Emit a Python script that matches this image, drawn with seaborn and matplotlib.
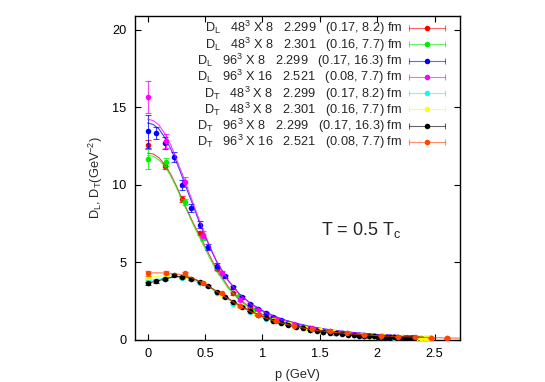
import matplotlib
matplotlib.use("Agg")
import matplotlib.pyplot as plt
import seaborn as sns
import numpy as np
from matplotlib.lines import Line2D
from matplotlib.legend_handler import HandlerBase

# ---------------- data ----------------
# momenta (GeV)
p_48_a = [0.0, 0.152, 0.303, 0.453, 0.601, 0.746, 0.888, 1.027, 1.161, 1.290, 1.413, 1.530,
          1.641, 1.745, 1.841, 1.930, 2.010, 2.082, 2.144, 2.198, 2.242, 2.276, 2.301, 2.316, 2.321]
p_48_b = [0.0, 0.161, 0.322, 0.481, 0.638, 0.793, 0.944, 1.091, 1.233, 1.370, 1.501, 1.626,
          1.744, 1.854, 1.956, 2.050, 2.136, 2.212, 2.279, 2.335, 2.382, 2.419, 2.445, 2.461, 2.466]
p_96 = [0.0, 0.076, 0.152, 0.228, 0.303, 0.378, 0.453, 0.527, 0.601, 0.674, 0.746, 0.818,
        0.888, 0.958, 1.027, 1.094, 1.161, 1.226, 1.290, 1.352, 1.413, 1.472, 1.530, 1.586,
        1.641, 1.693, 1.745, 1.794, 1.841, 1.887, 1.930, 1.971, 2.010, 2.047, 2.082, 2.114,
        2.144, 2.172, 2.198, 2.221, 2.242, 2.260, 2.276, 2.290, 2.301, 2.310, 2.316, 2.320, 2.321]
p_96x16 = [0.0, 0.161, 0.323, 0.483, 0.644, 0.803, 0.962, 1.120, 1.276, 1.432, 1.585, 1.737,
           1.887, 2.035, 2.181, 2.325, 2.466, 2.605]

# D_L values
dl_red = [12.6, 11.2, 9.1, 6.9, 4.6, 3.0, 2.1, 1.55, 1.15, 0.88, 0.68, 0.54, 0.44, 0.36, 0.30,
          0.26, 0.22, 0.19, 0.17, 0.16, 0.15, 0.14, 0.14, 0.13, 0.13]
dl_red_err = [0.3, 0.2, 0.2, 0.15, 0.1, 0.08, 0.06, 0.05, 0.04, 0.03, 0.03, 0.02, 0.02, 0.02, 0.02,
              0.01, 0.01, 0.01, 0.01, 0.01, 0.01, 0.01, 0.01, 0.01, 0.01]
dl_green = [11.65, 11.5, 8.9, 6.6, 4.35, 2.85, 2.0, 1.45, 1.05, 0.8, 0.62, 0.48, 0.39, 0.32, 0.27,
            0.23, 0.2, 0.18, 0.16, 0.15, 0.14, 0.13, 0.13, 0.12, 0.12]
dl_green_err = [0.65, 0.25, 0.2, 0.15, 0.1, 0.08, 0.06, 0.05, 0.04, 0.03, 0.03, 0.02, 0.02, 0.02,
                0.02, 0.01, 0.01, 0.01, 0.01, 0.01, 0.01, 0.01, 0.01, 0.01, 0.01]
dl_blue = [13.45, 13.35, 12.7, 11.8, 10.0, 8.5, 7.45, 6.0, 4.8, 4.1, 3.4, 2.75, 2.3, 2.0, 1.75,
           1.5, 1.3, 1.12, 0.98, 0.86, 0.76, 0.67, 0.6, 0.54, 0.48, 0.43, 0.39, 0.35, 0.32, 0.29,
           0.27, 0.25, 0.22, 0.21, 0.2, 0.19, 0.18, 0.17, 0.16, 0.16, 0.15, 0.15, 0.14, 0.14, 0.14,
           0.13, 0.13, 0.13, 0.13]
dl_blue_err = [1.05, 0.4, 0.4, 0.35, 0.3, 0.27, 0.25, 0.2, 0.15, 0.12, 0.1, 0.08, 0.07, 0.06, 0.05,
               0.05, 0.04, 0.04, 0.03, 0.03, 0.03, 0.02, 0.02, 0.02, 0.02, 0.02, 0.02, 0.02, 0.01,
               0.01, 0.01, 0.01, 0.01, 0.01, 0.01, 0.01, 0.01, 0.01, 0.01, 0.01, 0.01, 0.01, 0.01,
               0.01, 0.01, 0.01, 0.01, 0.01, 0.01]
dl_magenta = [15.65, 12.85, 10.2, 6.8, 4.35, 2.6, 1.95, 1.35, 1.0, 0.75, 0.57, 0.43, 0.33, 0.25,
              0.19, 0.15, 0.12, 0.1]
dl_magenta_err = [1.03, 0.45, 0.3, 0.2, 0.12, 0.08, 0.06, 0.05, 0.04, 0.03, 0.02, 0.02, 0.02, 0.01,
                  0.01, 0.01, 0.01, 0.01]

# D_T values
dt_cyan = [3.87, 3.95, 4.0, 3.7, 3.05, 2.35, 1.8, 1.38, 1.07, 0.84, 0.66, 0.53, 0.44, 0.36, 0.3,
           0.25, 0.21, 0.18, 0.16, 0.15, 0.14, 0.13, 0.13, 0.12, 0.12]
dt_cyan_err = [0.1, 0.08, 0.07, 0.06, 0.05, 0.04, 0.03, 0.03, 0.02, 0.02, 0.02, 0.01, 0.01, 0.01,
               0.01, 0.01, 0.01, 0.01, 0.01, 0.01, 0.01, 0.01, 0.01, 0.01, 0.01]
dt_yellow = [4.05, 4.2, 4.15, 3.65, 2.95, 2.25, 1.7, 1.3, 1.0, 0.78, 0.62, 0.5, 0.41, 0.34, 0.28,
             0.24, 0.2, 0.18, 0.16, 0.15, 0.14, 0.13, 0.13, 0.12, 0.12]
dt_yellow_err = [0.1, 0.08, 0.07, 0.06, 0.05, 0.04, 0.03, 0.03, 0.02, 0.02, 0.02, 0.01, 0.01, 0.01,
                 0.01, 0.01, 0.01, 0.01, 0.01, 0.01, 0.01, 0.01, 0.01, 0.01, 0.01]
dt_black = [3.66, 3.78, 3.95, 4.17, 4.08, 3.92, 3.75, 3.48, 3.12, 2.75, 2.45, 2.15, 1.88, 1.62,
            1.42, 1.25, 1.1, 0.97, 0.86, 0.76, 0.67, 0.6, 0.54, 0.48, 0.43, 0.39, 0.35, 0.32, 0.29,
            0.27, 0.25, 0.23, 0.21, 0.2, 0.19, 0.18, 0.17, 0.16, 0.15, 0.15, 0.14, 0.14, 0.13,
            0.13, 0.13, 0.13, 0.12, 0.12, 0.12]
dt_black_err = [0.1, 0.08, 0.07, 0.06, 0.05, 0.05, 0.04, 0.04, 0.03, 0.03, 0.03, 0.02, 0.02, 0.02,
                0.02, 0.02, 0.01, 0.01, 0.01, 0.01, 0.01, 0.01, 0.01, 0.01, 0.01, 0.01, 0.01, 0.01,
                0.01, 0.01, 0.01, 0.01, 0.01, 0.01, 0.01, 0.01, 0.01, 0.01, 0.01, 0.01, 0.01, 0.01,
                0.01, 0.01, 0.01, 0.01, 0.01, 0.01, 0.01]
dt_orange = [4.3, 4.35, 4.3, 3.68, 3.0, 2.2, 1.6, 1.2, 0.92, 0.7, 0.55, 0.43, 0.34, 0.27, 0.21,
             0.17, 0.13, 0.11]
dt_orange_err = [0.17, 0.12, 0.1, 0.07, 0.05, 0.04, 0.03, 0.02, 0.02, 0.02, 0.01, 0.01, 0.01, 0.01,
                 0.01, 0.01, 0.01, 0.01]

# fit curves
p_fit = [0.0, 0.05, 0.1, 0.15, 0.2, 0.25, 0.3, 0.35, 0.4, 0.45, 0.5, 0.55, 0.6, 0.7, 0.8, 0.9, 1.0,
         1.1, 1.2, 1.3, 1.4, 1.5, 1.6, 1.8, 2.0, 2.2, 2.4]
p_fit_long = [0.0, 0.05, 0.1, 0.15, 0.2, 0.25, 0.3, 0.35, 0.4, 0.45, 0.5, 0.55, 0.6, 0.7, 0.8, 0.9,
              1.0, 1.1, 1.2, 1.3, 1.4, 1.5, 1.6, 1.8, 2.0, 2.2, 2.4, 2.6, 2.72]
fit_red = [12.05, 12.0, 11.75, 11.3, 10.7, 9.95, 9.1, 8.3, 7.5, 6.8, 6.05, 5.3, 4.6, 3.45, 2.62,
           2.06, 1.66, 1.36, 1.12, 0.93, 0.78, 0.66, 0.56, 0.42, 0.32, 0.25, 0.2]
fit_green = [11.9, 11.85, 11.6, 11.2, 10.6, 9.85, 9.0, 8.2, 7.4, 6.65, 5.9, 5.15, 4.45, 3.35, 2.55,
             2.0, 1.6, 1.31, 1.08, 0.9, 0.76, 0.64, 0.55, 0.41, 0.31, 0.24, 0.19]
fit_blue = [14.0, 13.9, 13.6, 13.05, 12.35, 11.5, 10.55, 9.55, 8.6, 7.6, 6.7, 5.85, 5.05, 3.85, 2.95,
            2.35, 1.9, 1.55, 1.28, 1.07, 0.9, 0.76, 0.65, 0.48, 0.36, 0.28, 0.22]
fit_magenta = [14.25, 14.15, 13.85, 13.3, 12.6, 11.7, 10.75, 9.75, 8.75, 7.75, 6.8, 5.9, 5.1,
               3.85, 2.95, 2.3, 1.85, 1.5, 1.24, 1.03, 0.86, 0.73, 0.62, 0.46, 0.35, 0.27, 0.21]
fit_cyan = [3.85, 3.88, 3.93, 3.98, 4.02, 4.04, 4.02, 3.95, 3.83, 3.68, 3.5, 3.3, 3.08, 2.62, 2.2,
            1.82, 1.5, 1.24, 1.03, 0.86, 0.72, 0.61, 0.52, 0.39, 0.29, 0.23, 0.18]
fit_yellow = [4.05, 4.08, 4.12, 4.16, 4.18, 4.17, 4.12, 4.03, 3.9, 3.74, 3.55, 3.34, 3.1, 2.63,
              2.2, 1.82, 1.5, 1.24, 1.03, 0.86, 0.72, 0.61, 0.52, 0.39, 0.29, 0.23, 0.18]
fit_black = [3.7, 3.75, 3.84, 3.94, 4.03, 4.09, 4.1, 4.05, 3.94, 3.79, 3.6, 3.38, 3.15, 2.68, 2.24,
             1.85, 1.52, 1.25, 1.04, 0.87, 0.73, 0.62, 0.53, 0.4, 0.3, 0.23, 0.18]
fit_orange = [4.32, 4.33, 4.33, 4.32, 4.3, 4.26, 4.2, 4.1, 3.97, 3.8, 3.6, 3.38, 3.14, 2.66, 2.21,
              1.82, 1.49, 1.23, 1.02, 0.85, 0.71, 0.6, 0.51, 0.38, 0.28, 0.22, 0.17, 0.13, 0.12]

labels = [
    r"D$_\mathrm{L}$   48$^3$ X 8   2.299   (0.17, 8.2) fm",
    r"D$_\mathrm{L}$   48$^3$ X 8   2.301   (0.16, 7.7) fm",
    r"D$_\mathrm{L}$   96$^3$ X 8   2.299   (0.17, 16.3) fm",
    r"D$_\mathrm{L}$   96$^3$ X 16   2.521   (0.08, 7.7) fm",
    r"D$_\mathrm{T}$   48$^3$ X 8   2.299   (0.17, 8.2) fm",
    r"D$_\mathrm{T}$   48$^3$ X 8   2.301   (0.16, 7.7) fm",
    r"D$_\mathrm{T}$   96$^3$ X 8   2.299   (0.17, 16.3) fm",
    r"D$_\mathrm{T}$   96$^3$ X 16   2.521   (0.08, 7.7) fm",
]
colors = ["#ff0000", "#00ee00", "#0000ff", "#ff00ff", "#00ffff", "#ffff00", "#000000", "#ff4500"]

series = [
    (p_48_a, dl_red, dl_red_err, p_fit, fit_red),
    (p_48_b, dl_green, dl_green_err, p_fit, fit_green),
    (p_96, dl_blue, dl_blue_err, p_fit, fit_blue),
    (p_96x16, dl_magenta, dl_magenta_err, p_fit, fit_magenta),
    (p_48_a, dt_cyan, dt_cyan_err, p_fit, fit_cyan),
    (p_48_b, dt_yellow, dt_yellow_err, p_fit, fit_yellow),
    (p_96, dt_black, dt_black_err, p_fit, fit_black),
    (p_96x16, dt_orange, dt_orange_err, p_fit_long, fit_orange),
]

# ---------------- style ----------------
sns.set_theme(style="ticks")
plt.rcParams["font.family"] = ["Liberation Sans", "DejaVu Sans"]
plt.rcParams["mathtext.fontset"] = "custom"
plt.rcParams["mathtext.rm"] = "Liberation Sans"
plt.rcParams["mathtext.it"] = "Liberation Sans:italic"
plt.rcParams["mathtext.bf"] = "Liberation Sans:bold"

FS = 9.2

fig = plt.figure(figsize=(5.45, 3.82), dpi=100)
ax = fig.add_axes([135 / 545, 1 - 340 / 382, 325 / 545, 324 / 382])

for i, ((px, py, pe, fx, fy), c) in enumerate(zip(series, colors)):
    z = 2 + i
    ax.errorbar(px, py, yerr=pe, fmt="none", ecolor=c, elinewidth=0.8, capsize=2.2,
                capthick=0.8, zorder=z, alpha=0.75)
    sns.lineplot(x=fx, y=fy, ax=ax, color=c, lw=0.8, alpha=0.75, zorder=z, sort=False)
    sns.scatterplot(x=px, y=py, ax=ax, color=c, s=16, linewidth=0, zorder=z + 0.5)

ax.set_xlim(-0.11, 2.72)
ax.set_ylim(0, 20.9)
ax.set_xticks([0, 0.5, 1, 1.5, 2, 2.5])
ax.set_xticklabels(["0", "0.5", "1", "1.5", "2", "2.5"])
ax.set_yticks([0, 5, 10, 15, 20])
ax.tick_params(direction="in", length=4.5, width=0.8, top=True, right=True,
               labelsize=FS, pad=6, colors="black")
for s in ax.spines.values():
    s.set_linewidth(1.0)
    s.set_color("black")

ax.set_xlabel("p (GeV)", fontsize=FS, labelpad=6)
ax.set_ylabel(r"D$_\mathrm{L}$, D$_\mathrm{T}$(GeV$^{-2}$)", fontsize=FS, labelpad=5)

ax.text(1.51, 7.1, r"T = 0.5 T$_\mathrm{c}$", fontsize=13, ha="left", va="center")


class GnuHandler(HandlerBase):
    def create_artists(self, legend, orig, xdescent, ydescent, width, height, fontsize, trans):
        c = orig.get_color()
        y = height / 2 - ydescent
        x0 = -xdescent
        x1 = -xdescent + width
        line = Line2D([x0, x1], [y, y], color=c, lw=0.8, alpha=0.6, transform=trans)
        caps = Line2D([x0, x1], [y, y], color=c, lw=0, marker="|", ms=5, mew=0.8,
                      alpha=0.6, transform=trans)
        dot = Line2D([(x0 + x1) / 2], [y], color=c, lw=0, marker="o", ms=4, mew=0,
                     transform=trans)
        return [line, caps, dot]


handles = [Line2D([], [], color=c) for c in colors]
leg = ax.legend(handles, labels, loc="upper right", bbox_to_anchor=(0.954, 0.99),
                frameon=False, markerfirst=False, fontsize=FS, handlelength=2.8,
                handletextpad=0.55, borderpad=0, borderaxespad=0, labelspacing=-0.15,
                handler_map={Line2D: GnuHandler()})

fig.savefig("out.png", dpi=100)
